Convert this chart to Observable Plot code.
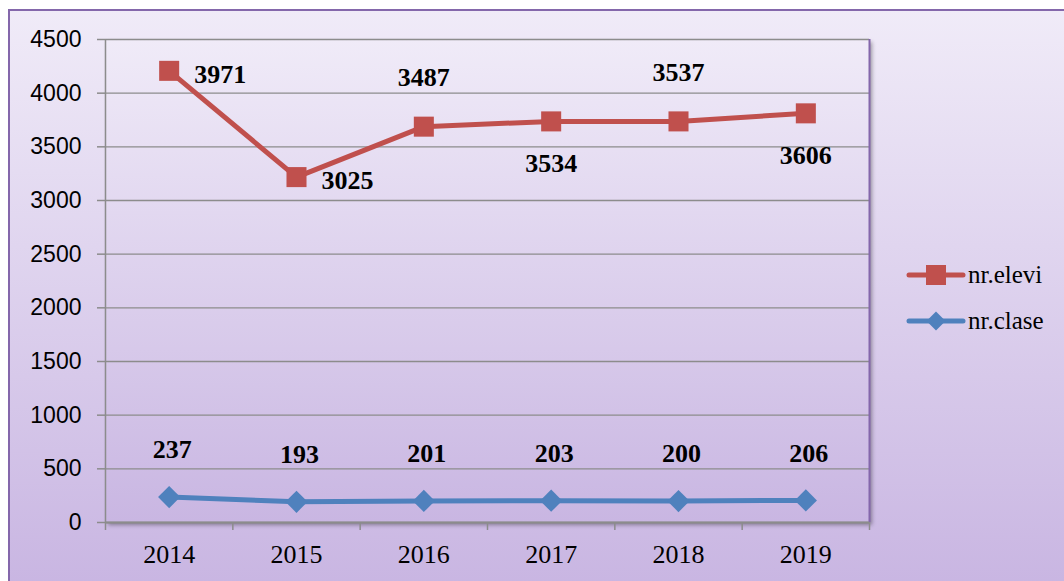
<!DOCTYPE html>
<html><head><meta charset="utf-8">
<script src="https://cdn.jsdelivr.net/npm/d3@7"></script>
<script src="https://cdn.jsdelivr.net/npm/@observablehq/plot@0.6"></script>
<style>
body{margin:0;overflow:hidden;width:1064px;height:581px;background:#fff}
#wrap{position:relative;width:1064px;height:581px;overflow:hidden}
#bg{position:absolute;left:8px;top:9px;width:1100px;height:600px;border-left:2px solid #8467ab;border-top:2px solid #8467ab;background:linear-gradient(#f0ebf8,#c7b3e1)}
#pa{position:absolute;left:105px;top:39px;width:764px;height:483px;background:linear-gradient(#f0ebf8,#c9b6e2);box-shadow:3px 3px 4px rgba(0,0,0,0.35)}
#chart{position:absolute;left:0;top:0}
#legend{position:absolute;left:0;top:0}
</style></head>
<body>
<div id="wrap"><div id="bg"></div><div id="pa"></div><div id="chart"></div>
<svg id="legend" width="1064" height="581"></svg></div>
<script>
const years = [2014, 2015, 2016, 2017, 2018, 2019];
const elevi = [3971, 3025, 3487, 3534, 3537, 3606];
const clase = [237, 193, 201, 203, 200, 206];
const eleviLabelPlacement = ["right", "right", "above", "below", "above", "below"];
const yTicks = [0, 500, 1000, 1500, 2000, 2500, 3000, 3500, 4000, 4500];
const seriesNames = ["nr.elevi", "nr.clase"];
const colors = {elevi: "#c0504d", clase: "#4f81bd"};

// stacked line chart: elevi drawn on top of clase
const rows = years.map((y, i) => ({
  year: y, clase: clase[i], elevi: elevi[i], top: clase[i] + elevi[i], place: eleviLabelPlacement[i]
}));
const boundaries = d3.range(years.length + 1).map(i => years[0] - 0.5 + i);

const serif = "Liberation Serif, Times New Roman, serif";
const sans = "Liberation Sans, Arial, sans-serif";

const chart = Plot.plot({
  width: 1064, height: 581,
  marginLeft: 105, marginTop: 39, marginRight: 195, marginBottom: 59,
  style: {background: "transparent", overflow: "visible"},
  x: {domain: [boundaries[0], boundaries[boundaries.length - 1]]},
  y: {domain: [0, 4500]},
  marks: [
    Plot.gridY(yTicks, {stroke: "#8c8c8c", strokeOpacity: 1, strokeWidth: 1.3}),
    Plot.ruleX([boundaries[0]], {stroke: "#8c8c8c", strokeWidth: 1.5}),
    Plot.ruleX([boundaries[boundaries.length - 1]], {stroke: "#8467ab", strokeWidth: 2}),
    Plot.ruleY([0], {stroke: "#8c8c8c", strokeWidth: 2}),
    Plot.axisY(yTicks, {tickSize: 8, tickPadding: 16, stroke: "#8c8c8c", strokeWidth: 1.5, fill: "#000", fontSize: 23, fontFamily: sans, label: null, tickFormat: d => String(d)}),
    Plot.axisX(boundaries, {tickSize: 8, stroke: "#8c8c8c", strokeWidth: 1.5, tickFormat: () => "", label: null}),
    Plot.axisX(years, {tickSize: 0, tickPadding: 22, fill: "#000", fontSize: 26, fontFamily: serif, label: null, tickFormat: d => String(d)}),
    Plot.line(rows, {x: "year", y: "clase", stroke: colors.clase, strokeWidth: 5}),
    Plot.line(rows, {x: "year", y: "top", stroke: colors.elevi, strokeWidth: 5}),
    Plot.dot(rows, {x: "year", y: "clase", symbol: "diamond2", r: 10, fill: colors.clase, stroke: null}),
    Plot.dot(rows, {x: "year", y: "top", symbol: "square", r: 11.3, fill: colors.elevi, stroke: null}),
    Plot.text(rows, {x: "year", y: "clase", text: d => String(d.clase), dy: -47, dx: 3, fontSize: 26, fontWeight: "bold", fontFamily: serif, fill: "#000"}),
    Plot.text(rows.filter(d => d.place === "right"), {x: "year", y: "top", text: d => String(d.elevi), dx: 25, dy: 4, textAnchor: "start", fontSize: 26, fontWeight: "bold", fontFamily: serif, fill: "#000"}),
    Plot.text(rows.filter(d => d.place === "above"), {x: "year", y: "top", text: d => String(d.elevi), dy: -49, fontSize: 26, fontWeight: "bold", fontFamily: serif, fill: "#000"}),
    Plot.text(rows.filter(d => d.place === "below"), {x: "year", y: "top", text: d => String(d.elevi), dy: 42, fontSize: 26, fontWeight: "bold", fontFamily: serif, fill: "#000"})
  ]
});
document.getElementById("chart").appendChild(chart);

// legend
const lg = d3.select("#legend");
const items = [
  {name: seriesNames[0], color: colors.elevi, sym: d3.symbolSquare, size: 400, y: 275},
  {name: seriesNames[1], color: colors.clase, sym: d3.symbolDiamond2, size: 230, y: 321}
];
items.forEach(it => {
  lg.append("line").attr("x1", 909).attr("x2", 963).attr("y1", it.y).attr("y2", it.y)
    .attr("stroke", it.color).attr("stroke-width", 5).attr("stroke-linecap", "round");
  lg.append("path").attr("d", d3.symbol(it.sym, it.size)()).attr("transform", `translate(936,${it.y})`).attr("fill", it.color);
  lg.append("text").attr("x", 968).attr("y", it.y).attr("dy", "0.32em").attr("font-family", serif)
    .attr("font-size", 25).attr("fill", "#000").text(it.name);
});
</script>
</body></html>
